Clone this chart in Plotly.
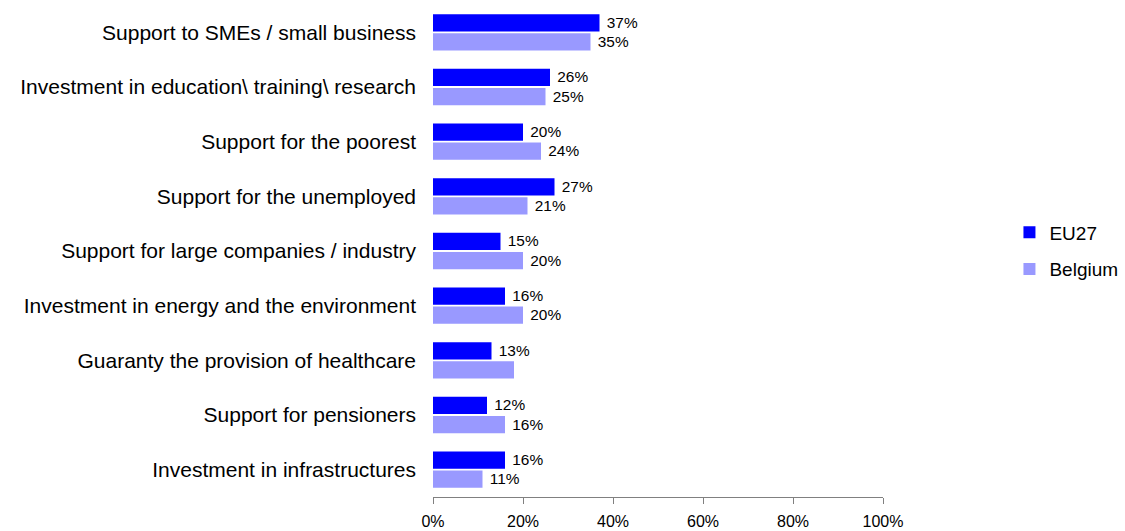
import plotly.graph_objects as go

categories = [
    "Support to SMEs / small business",
    "Investment in education\\ training\\ research",
    "Support for the poorest",
    "Support for the unemployed",
    "Support for large companies / industry",
    "Investment in energy and the environment",
    "Guaranty the provision of healthcare",
    "Support for pensioners",
    "Investment in infrastructures",
]
eu27 = [37, 26, 20, 27, 15, 16, 13, 12, 16]
belgium = [35, 25, 24, 21, 20, 20, 18, 16, 11]
belgium_label_hidden = [False, False, False, False, False, False, True, False, False]
tick_vals = [0, 20, 40, 60, 80, 100]
tick_text = ["0%", "20%", "40%", "60%", "80%", "100%"]

FONT = "Liberation Sans, Arial, sans-serif"

eu_text = [f" {v}%" for v in eu27]
be_text = ["" if h else f" {v}%" for v, h in zip(belgium, belgium_label_hidden)]

fig = go.Figure()
fig.add_trace(go.Bar(
    y=categories, x=eu27, name="EU27", orientation="h",
    marker=dict(color="#0000FF", line=dict(width=0)),
    text=eu_text, textposition="outside", cliponaxis=False,
    textfont=dict(family=FONT, size=17, color="#000000"),
    legendgroup="a",
))
fig.add_trace(go.Bar(
    y=categories, x=belgium, name="Belgium", orientation="h",
    marker=dict(color="#9999FF", line=dict(width=0)),
    text=be_text, textposition="outside", cliponaxis=False,
    textfont=dict(family=FONT, size=17, color="#000000"),
    legendgroup="b",
))

fig.update_layout(
    width=1125, height=531,
    barmode="group", bargap=0.30, bargroupgap=0.1,
    plot_bgcolor="white", paper_bgcolor="white",
    margin=dict(l=433, r=242, t=5, b=34, autoexpand=False),
    font=dict(family=FONT, color="#000000"),
    showlegend=True,
    legend=dict(
        x=1.281, y=0.5, xanchor="left", yanchor="middle",
        font=dict(family=FONT, size=19, color="#000000"),
        tracegroupgap=9, traceorder="grouped",
        bgcolor="rgba(0,0,0,0)",
    ),
)
fig.update_xaxes(
    range=[0, 100], tickvals=tick_vals, ticktext=tick_text,
    showgrid=False, zeroline=False, showline=True, linecolor="#808080", linewidth=1,
    ticks="outside", ticklen=6, tickcolor="#808080", tickwidth=1,
    ticklabelstandoff=4,
    tickfont=dict(family=FONT, size=16, color="#000000"),
    fixedrange=True,
)
fig.update_yaxes(
    autorange="reversed", showgrid=False, zeroline=False, showline=False,
    ticks="", ticklabelstandoff=16,
    tickfont=dict(family=FONT, size=21, color="#000000"),
    fixedrange=True,
)

fig.write_html("out.html", config={"displayModeBar": False},
               post_script="document.body.style.margin='0';")
